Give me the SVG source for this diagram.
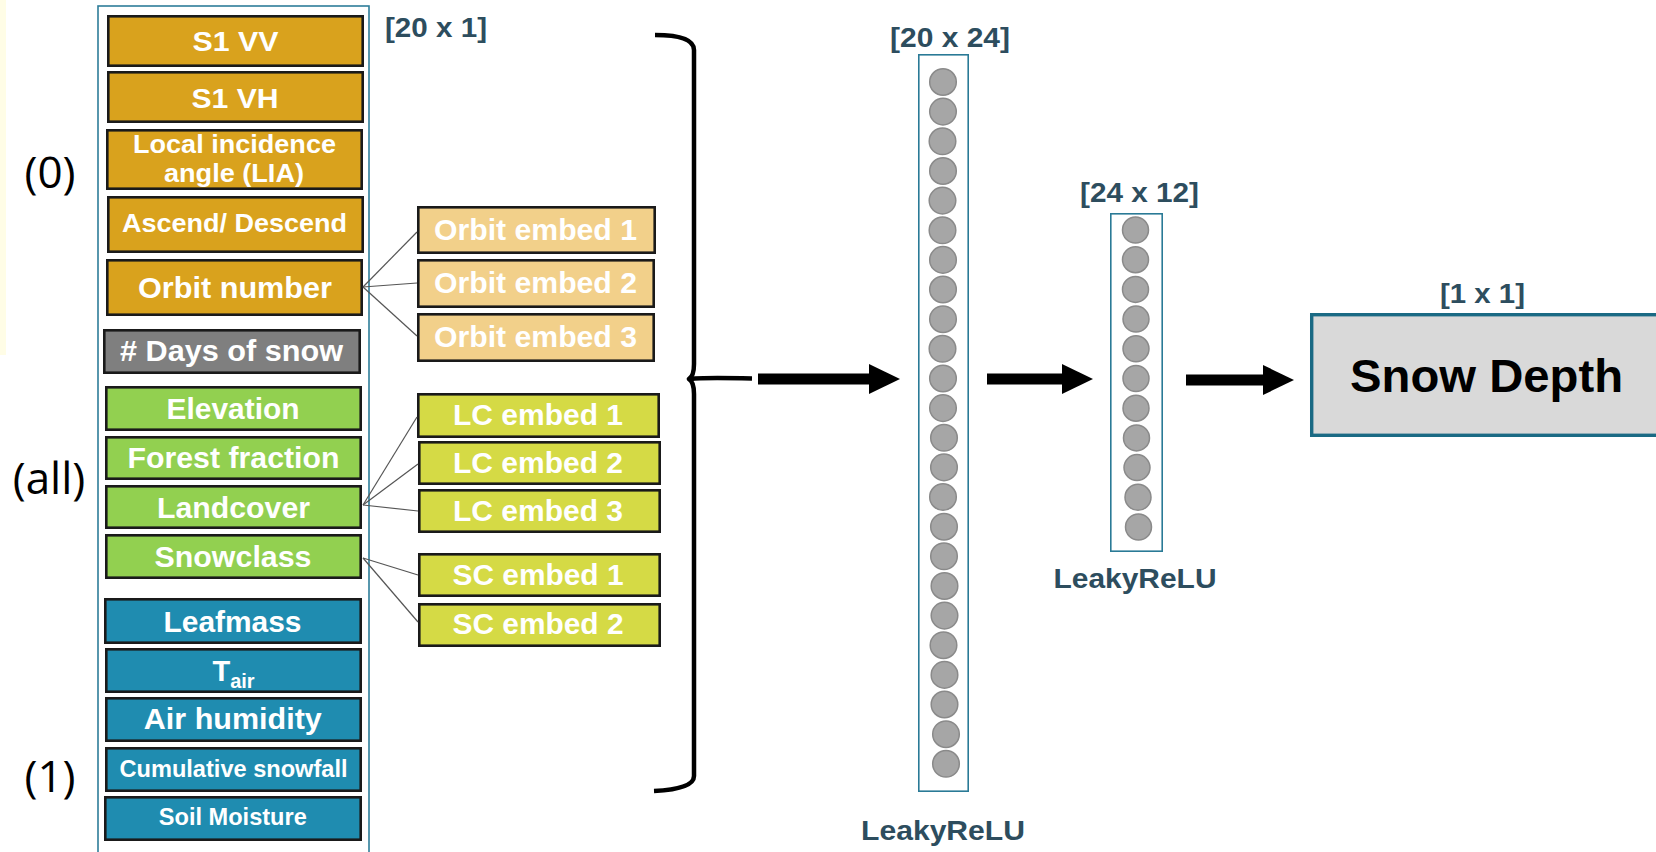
<svg xmlns="http://www.w3.org/2000/svg" width="1656" height="852" viewBox="0 0 1656 852">
  <defs>
    <style>
      .feat { stroke: #1a1a1a; stroke-width: 2.6; }
      .orange { fill: #D9A21D; }
      .grey { fill: #7F7F7F; }
      .green { fill: #92D050; }
      .blue { fill: #1F8CB0; }
      .orbit { fill: #F2D08A; }
      .lc { fill: #D5DA45; }
      .ft { font-family: "Liberation Sans", Arial, sans-serif; font-weight: bold; fill: #ffffff; text-anchor: middle; }
      .dim { font-family: "Liberation Sans", Arial, sans-serif; font-weight: bold; fill: #2D4D5E; text-anchor: middle; font-size: 28px; }
      .grp { font-family: "Open Sans", "Liberation Sans", sans-serif; fill: #000000; text-anchor: middle; font-size: 44px; }
      .layer { fill: none; stroke: #2A7A96; stroke-width: 1.6; }
      .neuron { fill: #A6A6A6; stroke: #8A8A8A; stroke-width: 1.5; }
      .link { stroke: #555555; stroke-width: 1.2; fill: none; }
      .flow { stroke: #000000; stroke-width: 11; fill: none; }
      .brace { fill: none; stroke: #000000; stroke-width: 4.5; stroke-linejoin: round; }
    </style>
    <marker id="head" markerUnits="userSpaceOnUse" markerWidth="31" markerHeight="31" refX="0" refY="15" orient="auto">
      <path d="M0,0 L31,15 L0,30 Z" fill="#000000"/>
    </marker>
  </defs>

  <rect x="0" y="0" width="6" height="355" fill="#FFFDE6"/>

  <!-- group labels -->
  <g id="group-labels">
    <text class="grp" x="50" y="188">(0)</text>
    <text class="grp" x="49" y="494">(all)</text>
    <text class="grp" x="50" y="792">(1)</text>
  </g>

  <!-- input vector -->
  <g id="input-frame">
    <rect x="98" y="6" width="271" height="856" fill="none" stroke="#2E7D99" stroke-width="1.6"/>
    <text class="dim" x="436" y="37" textLength="102" lengthAdjust="spacingAndGlyphs">[20 x 1]</text>
  </g>

  <g id="s1-vv">
    <rect class="feat orange" x="108.3" y="16.3" width="254.4" height="49.4"/>
    <text class="ft" x="235.5" y="51" font-size="28" textLength="86" lengthAdjust="spacingAndGlyphs">S1 VV</text>
  </g>
  <g id="s1-vh">
    <rect class="feat orange" x="108.3" y="72.3" width="254.4" height="49.4"/>
    <text class="ft" x="235" y="108" font-size="28" textLength="87" lengthAdjust="spacingAndGlyphs">S1 VH</text>
  </g>
  <g id="lia">
    <rect class="feat orange" x="107.3" y="130.3" width="254.4" height="58.4"/>
    <text class="ft" x="234.5" y="153" font-size="25" textLength="203" lengthAdjust="spacingAndGlyphs">Local incidence</text>
    <text class="ft" x="234" y="182" font-size="25" textLength="140" lengthAdjust="spacingAndGlyphs">angle (LIA)</text>
  </g>
  <g id="asc-desc">
    <rect class="feat orange" x="108.3" y="197.3" width="254.4" height="54.4"/>
    <text class="ft" x="234.5" y="232" font-size="26" textLength="225" lengthAdjust="spacingAndGlyphs">Ascend/ Descend</text>
  </g>
  <g id="orbit-number">
    <rect class="feat orange" x="107.3" y="260.3" width="254.4" height="54.4"/>
    <text class="ft" x="235" y="298" font-size="30" textLength="194" lengthAdjust="spacingAndGlyphs">Orbit number</text>
  </g>
  <g id="days-snow">
    <rect class="feat grey" x="104.3" y="330.3" width="255.4" height="42.4"/>
    <text class="ft" x="231.5" y="361" font-size="29" textLength="223" lengthAdjust="spacingAndGlyphs"># Days of snow</text>
  </g>
  <g id="elevation">
    <rect class="feat green" x="106.3" y="387.3" width="254.4" height="42.4"/>
    <text class="ft" x="233" y="419" font-size="29" textLength="133" lengthAdjust="spacingAndGlyphs">Elevation</text>
  </g>
  <g id="forest-fraction">
    <rect class="feat green" x="106.3" y="437.3" width="254.4" height="41.4"/>
    <text class="ft" x="233.5" y="468" font-size="29" textLength="212" lengthAdjust="spacingAndGlyphs">Forest fraction</text>
  </g>
  <g id="landcover">
    <rect class="feat green" x="106.3" y="486.3" width="254.4" height="41.4"/>
    <text class="ft" x="233.5" y="518" font-size="29" textLength="153" lengthAdjust="spacingAndGlyphs">Landcover</text>
  </g>
  <g id="snowclass">
    <rect class="feat green" x="106.3" y="535.3" width="254.4" height="42.4"/>
    <text class="ft" x="233" y="567" font-size="29" textLength="157" lengthAdjust="spacingAndGlyphs">Snowclass</text>
  </g>
  <g id="leafmass">
    <rect class="feat blue" x="105.3" y="599.3" width="255.4" height="43.4"/>
    <text class="ft" x="232.5" y="632" font-size="29" textLength="138" lengthAdjust="spacingAndGlyphs">Leafmass</text>
  </g>
  <g id="t-air">
    <rect class="feat blue" x="106.3" y="649.3" width="254.4" height="42.4"/>
    <text class="ft" x="233.5" y="681" font-size="29">T<tspan font-size="20" dy="7">air</tspan></text>
  </g>
  <g id="air-humidity">
    <rect class="feat blue" x="106.3" y="698.3" width="254.4" height="42.4"/>
    <text class="ft" x="232.8" y="729" font-size="29" textLength="178" lengthAdjust="spacingAndGlyphs">Air humidity</text>
  </g>
  <g id="cumulative-snowfall">
    <rect class="feat blue" x="106.3" y="748.3" width="254.4" height="42.4"/>
    <text class="ft" x="233.5" y="777" font-size="23" textLength="228" lengthAdjust="spacingAndGlyphs">Cumulative snowfall</text>
  </g>
  <g id="soil-moisture">
    <rect class="feat blue" x="105.3" y="797.3" width="255.4" height="42.4"/>
    <text class="ft" x="232.8" y="825" font-size="23" textLength="148" lengthAdjust="spacingAndGlyphs">Soil Moisture</text>
  </g>

  <!-- embeddings -->
  <g id="orbit-embed-1">
    <rect class="feat orbit" x="418.3" y="207.3" width="236.4" height="45.4"/>
    <text class="ft" x="535.5" y="240" font-size="30" textLength="203" lengthAdjust="spacingAndGlyphs">Orbit embed 1</text>
  </g>
  <g id="orbit-embed-2">
    <rect class="feat orbit" x="418.3" y="260.3" width="235.4" height="46.4"/>
    <text class="ft" x="535.5" y="293" font-size="30" textLength="203" lengthAdjust="spacingAndGlyphs">Orbit embed 2</text>
  </g>
  <g id="orbit-embed-3">
    <rect class="feat orbit" x="418.3" y="314.3" width="235.4" height="46.4"/>
    <text class="ft" x="535.5" y="347" font-size="30" textLength="203" lengthAdjust="spacingAndGlyphs">Orbit embed 3</text>
  </g>
  <g id="lc-embed-1">
    <rect class="feat lc" x="418.3" y="394.3" width="240.4" height="42.4"/>
    <text class="ft" x="538" y="425" font-size="29" textLength="170" lengthAdjust="spacingAndGlyphs">LC embed 1</text>
  </g>
  <g id="lc-embed-2">
    <rect class="feat lc" x="419.3" y="442.3" width="240.4" height="41.4"/>
    <text class="ft" x="538" y="473" font-size="29" textLength="170" lengthAdjust="spacingAndGlyphs">LC embed 2</text>
  </g>
  <g id="lc-embed-3">
    <rect class="feat lc" x="419.3" y="490.3" width="240.4" height="41.4"/>
    <text class="ft" x="538" y="521" font-size="29" textLength="170" lengthAdjust="spacingAndGlyphs">LC embed 3</text>
  </g>
  <g id="sc-embed-1">
    <rect class="feat lc" x="419.3" y="554.3" width="240.4" height="41.4"/>
    <text class="ft" x="538" y="585" font-size="29" textLength="171" lengthAdjust="spacingAndGlyphs">SC embed 1</text>
  </g>
  <g id="sc-embed-2">
    <rect class="feat lc" x="419.3" y="604.3" width="240.4" height="41.4"/>
    <text class="ft" x="538" y="634" font-size="29" textLength="171" lengthAdjust="spacingAndGlyphs">SC embed 2</text>
  </g>

  <!-- hidden layer 1 -->
  <g id="hidden-1">
    <rect class="layer" x="918.8" y="54.8" width="49.4" height="736.4"/>
    <text class="dim" x="950" y="47" textLength="120" lengthAdjust="spacingAndGlyphs">[20 x 24]</text>
    <g class="neuron">
      <circle cx="943" cy="82" r="13.3"/>
      <circle cx="943" cy="111.6" r="13.3"/>
      <circle cx="942.5" cy="141.3" r="13.3"/>
      <circle cx="943" cy="171" r="13.3"/>
      <circle cx="942.5" cy="200.6" r="13.3"/>
      <circle cx="942.5" cy="230.3" r="13.3"/>
      <circle cx="943" cy="259.9" r="13.3"/>
      <circle cx="943" cy="289.5" r="13.3"/>
      <circle cx="943" cy="319.2" r="13.3"/>
      <circle cx="942.5" cy="348.8" r="13.3"/>
      <circle cx="943" cy="378.5" r="13.3"/>
      <circle cx="943" cy="408.1" r="13.3"/>
      <circle cx="944" cy="437.8" r="13.3"/>
      <circle cx="944" cy="467.4" r="13.3"/>
      <circle cx="943" cy="497" r="13.3"/>
      <circle cx="944" cy="526.7" r="13.3"/>
      <circle cx="944" cy="556.3" r="13.3"/>
      <circle cx="944.5" cy="586" r="13.3"/>
      <circle cx="944.5" cy="615.6" r="13.3"/>
      <circle cx="943.5" cy="645.2" r="13.3"/>
      <circle cx="944.5" cy="674.9" r="13.3"/>
      <circle cx="944.5" cy="704.5" r="13.3"/>
      <circle cx="946" cy="734.2" r="13.3"/>
      <circle cx="946" cy="763.8" r="13.3"/>
    </g>
    <text class="dim" x="943" y="840" textLength="164" lengthAdjust="spacingAndGlyphs">LeakyReLU</text>
  </g>

  <!-- hidden layer 2 -->
  <g id="hidden-2">
    <rect class="layer" x="1110.8" y="213.8" width="51.4" height="337.4"/>
    <text class="dim" x="1139.5" y="202" textLength="119" lengthAdjust="spacingAndGlyphs">[24 x 12]</text>
    <g class="neuron">
      <circle cx="1135.5" cy="230" r="13"/>
      <circle cx="1135.5" cy="259.7" r="13"/>
      <circle cx="1135.5" cy="289.4" r="13"/>
      <circle cx="1136" cy="319.1" r="13"/>
      <circle cx="1136" cy="348.8" r="13"/>
      <circle cx="1136" cy="378.5" r="13"/>
      <circle cx="1136" cy="408.2" r="13"/>
      <circle cx="1136.5" cy="437.9" r="13"/>
      <circle cx="1137" cy="467.6" r="13"/>
      <circle cx="1138" cy="497.3" r="13"/>
      <circle cx="1138.5" cy="527" r="13"/>
    </g>
    <text class="dim" x="1135" y="588" textLength="163" lengthAdjust="spacingAndGlyphs">LeakyReLU</text>
  </g>

  <!-- output -->
  <g id="snow-depth">
    <rect x="1311.7" y="314.7" width="360" height="120.6" fill="#D9D9D9" stroke="#1A6A84" stroke-width="3.4"/>
    <text class="dim" x="1482.5" y="303" textLength="85" lengthAdjust="spacingAndGlyphs">[1 x 1]</text>
    <text x="1486.5" y="392" font-family="Liberation Sans, Arial, sans-serif" font-weight="bold" font-size="46" fill="#000000" text-anchor="middle" textLength="273" lengthAdjust="spacingAndGlyphs">Snow Depth</text>
  </g>

  <!-- connectors -->
  <g id="connectors">
    <line class="link" x1="363" y1="287" x2="417" y2="232"/>
    <line class="link" x1="363" y1="287" x2="417" y2="283"/>
    <line class="link" x1="363" y1="287" x2="417" y2="336"/>
    <line class="link" x1="363" y1="505" x2="417" y2="417"/>
    <line class="link" x1="363" y1="505" x2="418" y2="464"/>
    <line class="link" x1="363" y1="505" x2="418" y2="511"/>
    <line class="link" x1="363" y1="558" x2="418" y2="575"/>
    <line class="link" x1="363" y1="558" x2="418" y2="622"/>

    <!-- curly brace gathering all inputs -->
    <path class="brace" d="M655,35 Q694,35 694,50 L694,364 Q694,376 689,379 Q694,382 694,394 L694,776 Q694,789 654,791"/>
    <path class="brace" d="M691,379 Q700,377.5 752,378.5"/>

    <line class="flow" x1="758" y1="379" x2="869" y2="379" marker-end="url(#head)"/>
    <line class="flow" x1="987" y1="379" x2="1062" y2="379" marker-end="url(#head)"/>
    <line class="flow" x1="1186" y1="380" x2="1263" y2="380" marker-end="url(#head)"/>
  </g>
</svg>
